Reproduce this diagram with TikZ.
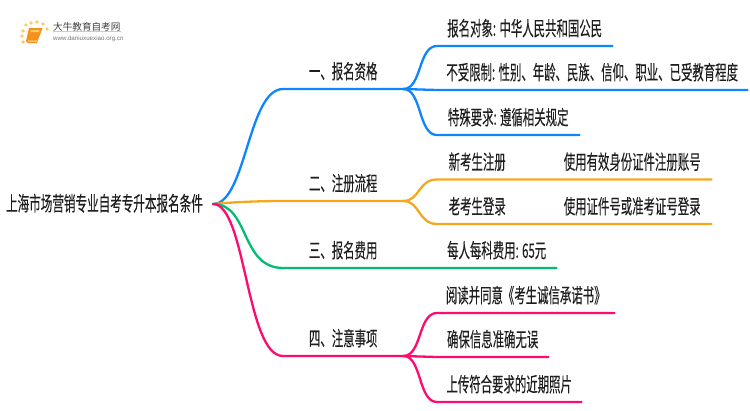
\documentclass[tikz,border=0pt]{standalone}
\usepackage{fontspec}
\setmainfont{Noto Sans CJK SC}[FakeStretch=0.57,FakeBold=0.15]
\newfontfamily\logofont{Noto Sans CJK SC}
\newfontfamily\urlfont{Liberation Sans}
\usetikzlibrary{positioning}
\definecolor{cblue}{HTML}{0F84FF}
\definecolor{corange}{HTML}{F5A81C}
\definecolor{cgreen}{HTML}{00BE70}
\definecolor{cpink}{HTML}{FF0A6E}
\definecolor{ctext}{HTML}{1E1E1E}
\definecolor{cbook}{HTML}{F5921E}
\definecolor{cdot}{HTML}{FBCB6A}
\tikzset{
  topic/.style={font=\fontsize{20}{20}\selectfont,text=ctext,text height=17pt,text depth=3pt,
    inner xsep=0pt,inner ysep=7pt,anchor=south west,align=center},
  link/.style={line width=2.3pt,line cap=round},
}

\begin{document}
\begin{tikzpicture}[x=1pt,y=-1pt]
  \useasboundingbox (0,0) rectangle (750,410);
  % logo
  \foreach \px/\py in {26/25,31/23,37/22,43/24,47/29,23/31,22/36,23/42}
    \fill[cdot] (\px,\py) circle (1.9);
  \fill[cbook] (29,28) -- (42.5,28) -- (37,43) -- (27.5,43) -- (26,41) -- cycle;
  \fill[cdot] (31,30) -- (39.5,30) -- (39,32) -- (30.5,32) -- cycle;
  \fill[white!70!cbook] (28,40.5) -- (37.5,40.5) -- (37,41.6) -- (28,41.6) -- cycle;
  \node[anchor=west,inner sep=0pt,text=black!75] (logotitle) at (53,27)
    {\logofont\fontsize{9.6}{10}\selectfont 大牛教育自考网};
  \node[anchor=west,inner sep=0pt,text=black!55] (logourl) at (53,38.7)
    {\urlfont\fontsize{6.2}{7}\selectfont www.daniuxuexiao.org.cn};
  \draw[black!20,line width=.6pt] (logotitle.south west) -- (logotitle.south east);

  \node[topic,anchor=east,inner xsep=10pt,inner ysep=0pt,font=\fontsize{20.3}{20}\selectfont] (root) at (213,204) {上海市场营销专业自考专升本报名条件};

  % first level
  \node[topic,minimum width=120pt] (zige) at (283,89) {一、报名资格};
  \node[topic,minimum width=120pt] (liucheng) at (283,201) {二、注册流程};
  \node[topic,minimum width=120pt] (feiyong) at (283,268) {三、报名费用};
  \node[topic,minimum width=120pt] (zhuyi) at (283,356) {四、注意事项};

  % second level
  \node[topic,minimum width=175pt] (duixiang) at (437,46) {报名对象: 中华人民共和国公民};
  \node[topic,minimum width=310pt] (xianzhi) at (437,90) {不受限制: 性别、年龄、民族、信仰、职业、已受教育程度};
  \node[topic,minimum width=142pt] (teshu) at (437,135) {特殊要求: 遵循相关规定};
  \node[topic,minimum width=80pt] (xinsheng) at (437,179.5) {新考生注册};
  \node[topic,minimum width=158pt] (xinzhanghao) at (553,179.5) {使用有效身份证件注册账号};
  \node[topic,minimum width=80pt] (laosheng) at (437,224) {老考生登录};
  \node[topic,minimum width=158pt] (laozhanghao) at (553,224) {使用证件号或准考证号登录};
  \node[topic,minimum width=119pt] (meike) at (437,268) {每人每科费用: 65元};
  \node[topic,minimum width=177pt] (chengnuo) at (437,313) {阅读并同意《考生诚信承诺书》};
  \node[topic,minimum width=111pt] (zhunque) at (437,357) {确保信息准确无误};
  \node[topic,minimum width=144pt] (zhaopian) at (437,402) {上传符合要求的近期照片};

  % connectors
  \draw[link,cblue] (root.east) .. controls (246,204) and (248,89) .. (zige.south west) -- (zige.south east);
  \draw[link,corange] (root.east) .. controls (235,202) and (260,201) .. (liucheng.south west) -- (liucheng.south east);
  \draw[link,cgreen] (root.east) .. controls (250,204) and (240,268) .. (feiyong.south west) -- (feiyong.south east) -- (meike.south west) -- (meike.south east);
  \draw[link,cpink] (root.east) .. controls (246,204) and (246,356) .. (zhuyi.south west) -- (zhuyi.south east);

  \draw[link,cblue] (zige.south east) .. controls (422,89) and (418,46) .. (duixiang.south west) -- (duixiang.south east);
  \draw[link,cblue] (zige.south east) -- (xianzhi.south west) -- (xianzhi.south east);
  \draw[link,cblue] (zige.south east) .. controls (422,89) and (418,135) .. (teshu.south west) -- (teshu.south east);
  \draw[link,corange] (liucheng.south east) .. controls (420,201) and (418,179.5) .. (xinsheng.south west) -- (xinzhanghao.south east);
  \draw[link,corange] (liucheng.south east) .. controls (420,201) and (418,224) .. (laosheng.south west) -- (laozhanghao.south east);
  \draw[link,cpink] (zhuyi.south east) .. controls (422,356) and (418,313) .. (chengnuo.south west) -- (chengnuo.south east);
  \draw[link,cpink] (zhuyi.south east) -- (zhunque.south west) -- (zhunque.south east);
  \draw[link,cpink] (zhuyi.south east) .. controls (422,356) and (418,402) .. (zhaopian.south west) -- (zhaopian.south east);
\end{tikzpicture}
\end{document}
